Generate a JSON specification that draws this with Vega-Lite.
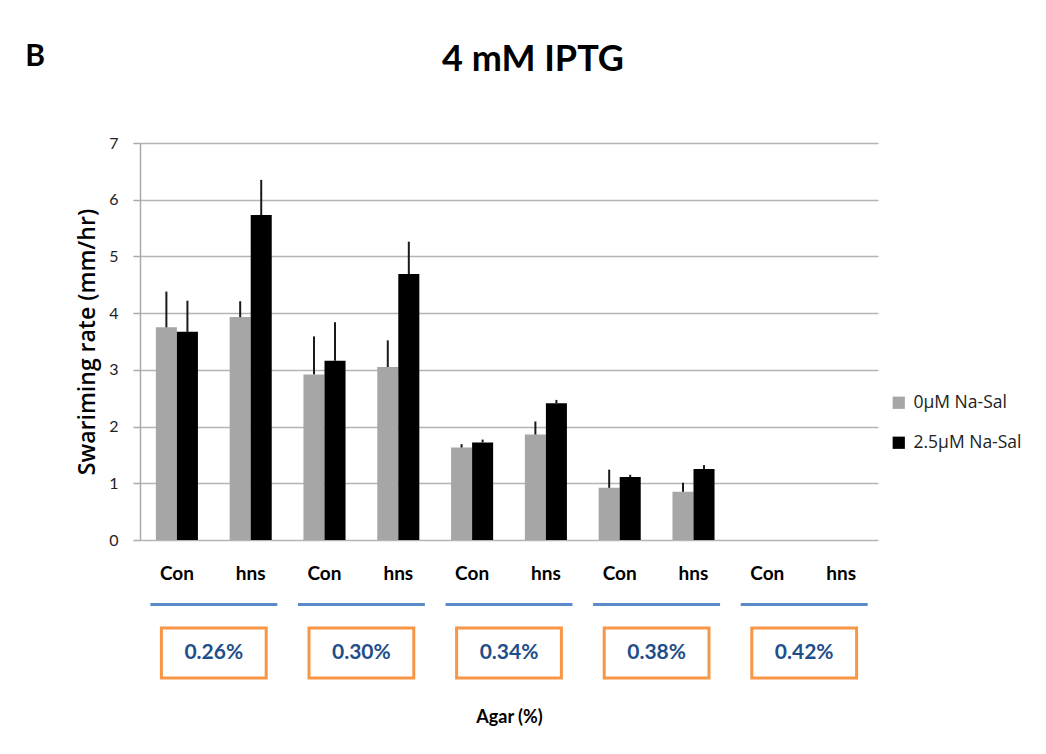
{
  "$schema": "https://vega.github.io/schema/vega-lite/v6.json",
  "background": "white",
  "padding": {"left": 25, "top": 42, "right": 0, "bottom": 0},
  "title": {"text": "B", "orient": "left", "anchor": "end", "angle": 0, "align": "right", "baseline": "top", "fontSize": 30, "fontWeight": "bold", "font": "Lato", "color": "#000000", "offset": 12, "frame": "bounds"},
  "datasets": {
    "bars": [
      {"sample": "0.26|Con", "series": "0µM Na-Sal", "value": 3.75, "upper": 4.38},
      {"sample": "0.26|Con", "series": "2.5µM Na-Sal", "value": 3.67, "upper": 4.22},
      {"sample": "0.26|hns", "series": "0µM Na-Sal", "value": 3.93, "upper": 4.21},
      {"sample": "0.26|hns", "series": "2.5µM Na-Sal", "value": 5.73, "upper": 6.35},
      {"sample": "0.30|Con", "series": "0µM Na-Sal", "value": 2.92, "upper": 3.59},
      {"sample": "0.30|Con", "series": "2.5µM Na-Sal", "value": 3.16, "upper": 3.84},
      {"sample": "0.30|hns", "series": "0µM Na-Sal", "value": 3.05, "upper": 3.52},
      {"sample": "0.30|hns", "series": "2.5µM Na-Sal", "value": 4.69, "upper": 5.26},
      {"sample": "0.34|Con", "series": "0µM Na-Sal", "value": 1.63, "upper": 1.69},
      {"sample": "0.34|Con", "series": "2.5µM Na-Sal", "value": 1.72, "upper": 1.77},
      {"sample": "0.34|hns", "series": "0µM Na-Sal", "value": 1.86, "upper": 2.09},
      {"sample": "0.34|hns", "series": "2.5µM Na-Sal", "value": 2.41, "upper": 2.47},
      {"sample": "0.38|Con", "series": "0µM Na-Sal", "value": 0.92, "upper": 1.24},
      {"sample": "0.38|Con", "series": "2.5µM Na-Sal", "value": 1.11, "upper": 1.15},
      {"sample": "0.38|hns", "series": "0µM Na-Sal", "value": 0.85, "upper": 1.01},
      {"sample": "0.38|hns", "series": "2.5µM Na-Sal", "value": 1.25, "upper": 1.32},
      {"sample": "0.42|Con", "series": "0µM Na-Sal", "value": 0, "upper": 0},
      {"sample": "0.42|Con", "series": "2.5µM Na-Sal", "value": 0, "upper": 0},
      {"sample": "0.42|hns", "series": "0µM Na-Sal", "value": 0, "upper": 0},
      {"sample": "0.42|hns", "series": "2.5µM Na-Sal", "value": 0, "upper": 0}
    ],
    "agar": [
      {"agar": "0.26%"},
      {"agar": "0.30%"},
      {"agar": "0.34%"},
      {"agar": "0.38%"},
      {"agar": "0.42%"}
    ]
  },
  "spacing": 20,
  "vconcat": [
    {
      "width": 738,
      "height": 397,
      "title": {"text": "4 mM IPTG", "anchor": "middle", "fontSize": 36, "fontWeight": "bold", "font": "Lato", "color": "#000000", "offset": 56, "dx": 24},
      "data": {"name": "bars"},
      "encoding": {
        "x": {
          "field": "sample", "type": "nominal", "sort": null,
          "scale": {"paddingInner": 0.43, "paddingOuter": 0.215},
          "axis": {"title": null, "labelExpr": "split(datum.value, '|')[1]", "labelAngle": 0, "labelFontSize": 19, "labelFontWeight": "bold", "labelFont": "Lato", "labelColor": "#000000", "labelPadding": 24, "ticks": false, "domain": false}
        },
        "xOffset": {"field": "series", "type": "nominal", "sort": ["0µM Na-Sal", "2.5µM Na-Sal"], "scale": {"paddingInner": 0, "paddingOuter": 0}}
      },
      "layer": [
        {
          "mark": {"type": "bar"},
          "encoding": {
            "y": {
              "field": "value", "type": "quantitative",
              "scale": {"domain": [0, 7]},
              "axis": {"title": "Swariming rate (mm/hr)", "values": [0, 1, 2, 3, 4, 5, 6, 7], "format": "d", "titleFontSize": 23, "titleFontWeight": 600, "titleFont": "Open Sans", "titleColor": "#000000", "titlePadding": 9, "labelFontSize": 16, "labelFont": "Lato", "labelColor": "#222222", "labelPadding": 15, "tickSize": 7, "tickColor": "#aaaaaa", "tickWidth": 1.5, "domainColor": "#aaaaaa", "domainWidth": 1.5, "gridColor": "#b5b5b5", "gridWidth": 1.5}
            },
            "color": {
              "field": "series", "type": "nominal",
              "scale": {"domain": ["0µM Na-Sal", "2.5µM Na-Sal"], "range": ["#a6a6a6", "#000000"]},
              "legend": {"title": null, "orient": "none", "legendX": 750, "legendY": 251, "symbolType": "square", "symbolSize": 150, "symbolStrokeWidth": 0, "labelFontSize": 17.5, "labelFont": "Open Sans", "labelColor": "#222222", "rowPadding": 21, "labelOffset": 6}
            }
          }
        },
        {
          "transform": [{"filter": "datum.value > 0"}],
          "mark": {"type": "rule", "color": "#1a1a1a", "strokeWidth": 2},
          "encoding": {
            "y": {"field": "value", "type": "quantitative"},
            "y2": {"field": "upper"}
          }
        }
      ]
    },
    {
      "width": 738,
      "height": 3,
      "data": {"name": "agar"},
      "mark": {"type": "bar", "color": "#5b8ac9", "width": {"band": 0.86}},
      "encoding": {
        "x": {"field": "agar", "type": "nominal", "sort": null, "axis": null, "scale": {"paddingInner": 0, "paddingOuter": 0}}
      }
    },
    {
      "width": 738,
      "height": 50,
      "data": {"name": "agar"},
      "encoding": {
        "x": {"field": "agar", "type": "nominal", "sort": null, "scale": {"paddingInner": 0, "paddingOuter": 0},
          "axis": {"title": "Agar (%)", "labels": false, "ticks": false, "domain": false, "titleFontSize": 18, "titleFontWeight": "bold", "titleFont": "Lato", "titleColor": "#000000", "titlePadding": 30}}
      },
      "layer": [
        {"mark": {"type": "bar", "fill": "#ffffff", "stroke": "#f79646", "strokeWidth": 3, "width": {"band": 0.71}}},
        {"mark": {"type": "text", "fontSize": 21, "fontWeight": "bold", "font": "Lato", "color": "#1f4e8a"},
         "encoding": {"text": {"field": "agar", "type": "nominal"}}}
      ]
    }
  ],
  "config": {
    "view": {"stroke": null},
    "font": "Lato"
  }
}
